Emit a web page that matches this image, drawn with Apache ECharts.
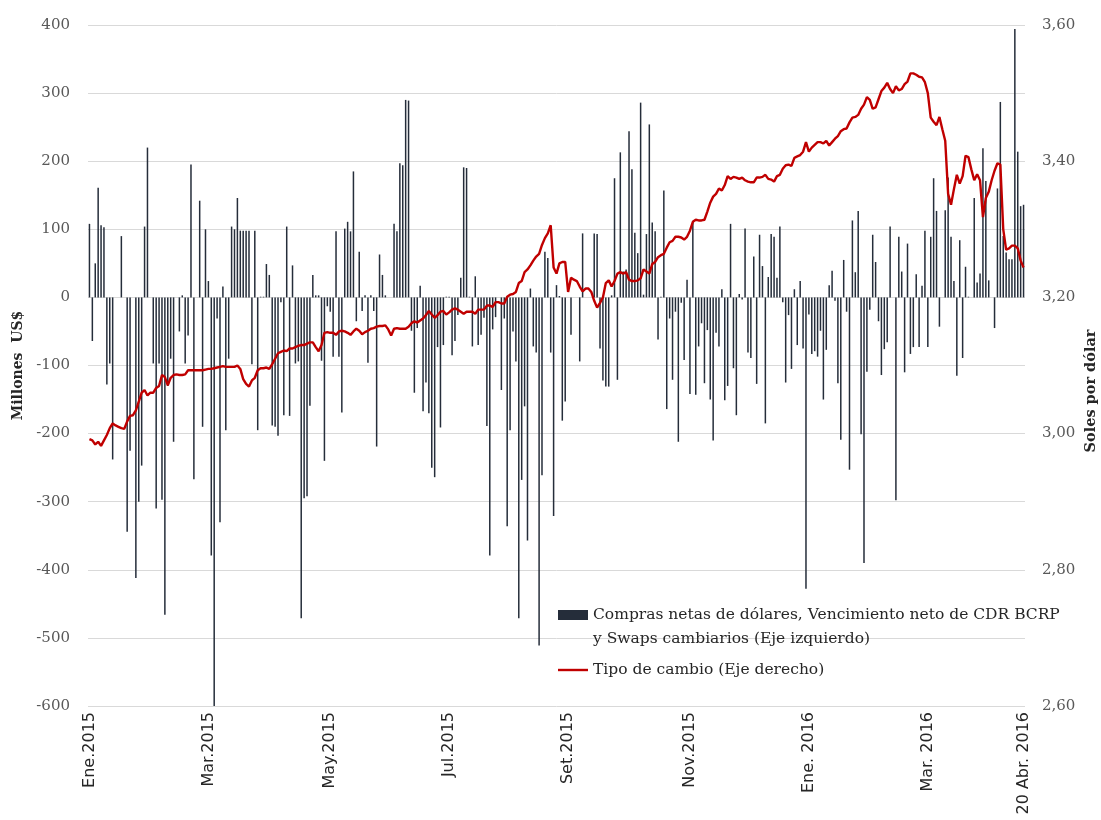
<!DOCTYPE html>
<html>
<head>
<meta charset="utf-8">
<script src="https://cdn.jsdelivr.net/npm/echarts@6/dist/echarts.min.js"></script>
<style>
  html, body { margin: 0; padding: 0; background: #fff; }
  #main { width: 1101px; height: 820px; }
</style>
</head>
<body>
<div id="main"></div>
<script>
// Compras netas de dólares + vencimiento neto CDR + swaps (mill. US$), un valor por día hábil
const compras = [
  108, -64, 50, 161, 106, 103, -128, -97, -238, 0,
  0, 90, 0, -344, -225, 0, -412, -300, -247, 104,
  220, 0, -97, -310, -97, -297, -466, -130, -90, -212,
  0, -50, 3, -97, -56, 195, -267, 0, 142, -190,
  100, 24, -379, -600, -31, -330, 16, -195, -90, 104,
  100, 146, 98, 98, 98, 98, -98, 98, -195, 1,
  1, 49, 33, -188, -190, -203, -7, -173, 104, -174,
  47, -97, -94, -471, -295, -292, -159, 33, 3, 3,
  -93, -240, -13, -21, -87, 97, -87, -169, 101, 111,
  97, 185, -35, 67, -20, 3, -96, 3, -20, -219,
  63, 33, 3, 0, 0, 108, 97, 197, 194, 290,
  289, -49, -140, -45, 17, -167, -125, -170, -250, -264,
  -73, -191, -70, 1, 1, -85, -64, -26, 29, 191,
  190, 1, -72, 31, -70, -55, -30, -189, -379, -47,
  -29, 0, -136, -31, -336, -195, -50, -94, -471, -268,
  -160, -357, 13, -72, -81, -511, -261, 67, 58, -81,
  -321, 18, 2, -181, -153, 0, -55, 0, 0, -94,
  94, 0, 0, 0, 94, 93, -75, -122, -131, -131,
  3, 175, -121, 213, 38, 41, 244, 188, 95, 65,
  286, 4, 93, 254, 110, 97, -62, 1, 157, -164,
  -31, -121, -21, -212, -8, -92, 26, -142, 111, -143,
  -72, -38, -126, -48, -150, -210, -52, -72, 12, -151,
  -130, 108, -104, -173, 5, -3, 101, -81, -89, 60,
  -127, 92, 46, -185, 30, 93, 89, 29, 104, -7,
  -125, -26, -105, 12, -70, 24, -75, -428, -25, -83,
  -79, -87, -49, -150, -77, 18, 39, -5, -126, -209,
  55, -21, -253, 113, 37, 127, -201, -390, -109, -18,
  92, 52, -35, -114, -76, -66, 104, 0, -298, 89,
  38, -110, 79, -83, -73, 34, -73, 17, 98, -73,
  89, 175, 127, -43, 0, 128, 176, 89, 24, -115,
  84, -89, 45, 1, 0, 146, 22, 35, 219, 171,
  25, 0, -45, 160, 287, 90, 66, 56, 56, 394,
  214, 134, 136
];

// Tipo de cambio (soles por dólar)
const tipoCambio = [
  2.992, 2.990, 2.984, 2.988, 2.982, 2.990, 2.998, 3.008, 3.015, 3.012,
  3.010, 3.008, 3.007, 3.018, 3.026, 3.027, 3.034, 3.047, 3.060, 3.064,
  3.056, 3.060, 3.060, 3.067, 3.070, 3.086, 3.083, 3.071, 3.082, 3.086,
  3.087, 3.086, 3.086, 3.087, 3.093, 3.093, 3.093, 3.093, 3.093, 3.093,
  3.094, 3.095, 3.095, 3.096, 3.097, 3.098, 3.099, 3.098, 3.098, 3.098,
  3.098, 3.100, 3.095, 3.080, 3.073, 3.069, 3.078, 3.082, 3.093, 3.096,
  3.096, 3.097, 3.095, 3.102, 3.110, 3.118, 3.120, 3.122, 3.121, 3.125,
  3.125, 3.127, 3.129, 3.130, 3.130, 3.132, 3.134, 3.134, 3.127, 3.121,
  3.130, 3.148, 3.149, 3.148, 3.148, 3.145, 3.150, 3.151, 3.150, 3.148,
  3.145, 3.150, 3.154, 3.151, 3.146, 3.149, 3.151, 3.154, 3.155, 3.157,
  3.158, 3.158, 3.159, 3.153, 3.144, 3.154, 3.155, 3.154, 3.154, 3.154,
  3.157, 3.162, 3.165, 3.163, 3.166, 3.169, 3.174, 3.180, 3.175, 3.170,
  3.174, 3.179, 3.180, 3.175, 3.178, 3.182, 3.184, 3.182, 3.179, 3.176,
  3.179, 3.179, 3.179, 3.176, 3.182, 3.182, 3.182, 3.188, 3.188, 3.186,
  3.193, 3.193, 3.191, 3.191, 3.201, 3.204, 3.205, 3.208, 3.221, 3.224,
  3.237, 3.241, 3.247, 3.254, 3.260, 3.264, 3.277, 3.287, 3.294, 3.306,
  3.244, 3.235, 3.250, 3.252, 3.252, 3.208, 3.229, 3.226, 3.224, 3.216,
  3.209, 3.213, 3.213, 3.208, 3.195, 3.185, 3.192, 3.200, 3.221, 3.225,
  3.216, 3.224, 3.235, 3.237, 3.235, 3.237, 3.226, 3.224, 3.224, 3.225,
  3.228, 3.241, 3.238, 3.235, 3.249, 3.252, 3.259, 3.262, 3.264, 3.273,
  3.281, 3.283, 3.289, 3.289, 3.288, 3.285, 3.289, 3.298, 3.311, 3.314,
  3.313, 3.313, 3.314, 3.326, 3.339, 3.348, 3.352, 3.360, 3.357, 3.365,
  3.378, 3.374, 3.377, 3.376, 3.374, 3.376, 3.372, 3.370, 3.369, 3.369,
  3.376, 3.376, 3.377, 3.380, 3.374, 3.373, 3.370, 3.378, 3.380, 3.389,
  3.394, 3.395, 3.393, 3.405, 3.407, 3.409, 3.414, 3.428, 3.414, 3.420,
  3.424, 3.428, 3.428, 3.426, 3.430, 3.423, 3.428, 3.433, 3.437, 3.444,
  3.447, 3.448, 3.457, 3.464, 3.465, 3.468, 3.477, 3.483, 3.494, 3.490,
  3.477, 3.479, 3.491, 3.503, 3.508, 3.515, 3.506, 3.500, 3.510, 3.504,
  3.506, 3.513, 3.517, 3.529, 3.529, 3.527, 3.524, 3.523, 3.516, 3.500,
  3.464, 3.458, 3.453, 3.465, 3.447, 3.430, 3.352, 3.336, 3.359, 3.380,
  3.367, 3.378, 3.408, 3.406, 3.388, 3.372, 3.381, 3.372, 3.318, 3.346,
  3.355, 3.372, 3.386, 3.397, 3.395, 3.300, 3.270, 3.272, 3.276, 3.276,
  3.272, 3.254, 3.244
];

// etiquetas del eje x (índice del día hábil y texto)
const tickIdx = [0, 41, 83, 124, 165, 207, 248, 289, 322];
const tickText = ['Ene.2015', 'Mar.2015', 'May.2015', 'Jul.2015', 'Set.2015',
  'Nov.2015', 'Ene. 2016', 'Mar. 2016', '20 Abr. 2016'];

const barName = 'Compras netas de dólares, Vencimiento neto de CDR BCRP y Swaps cambiarios (Eje izquierdo)';
const lineName = 'Tipo de cambio (Eje derecho)';

const dias = compras.map((v, i) => {
  const k = tickIdx.indexOf(i);
  return k >= 0 ? tickText[k] : 'd' + i;
});

const serif = 'DejaVu Serif';
const barColor = '#252d3a';
const lineColor = '#c00000';

const chart = echarts.init(document.getElementById('main'), null, { renderer: 'canvas' });

chart.setOption({
  animation: false,
  backgroundColor: '#fff',
  grid: { // área del gráfico
    left: 88,
    right: 76,
    top: 25,
    bottom: 114,
    containLabel: false,
    outerBoundsMode: 'none'
  },
  legend: {
    orient: 'vertical',
    left: 558,
    top: 579,
    padding: 0,
    itemWidth: 30,
    itemHeight: 10,
    itemGap: 7,
    textStyle: { fontFamily: serif, fontSize: 15.5, color: '#262626', lineHeight: 24 },
    // línea vacía arriba para que el icono quede junto a la primera línea
    formatter: name => name === barName
      ? '\nCompras netas de dólares, Vencimiento neto de CDR BCRP\ny Swaps cambiarios (Eje izquierdo)'
      : name,
    data: [
      { name: barName, icon: 'rect' },
      { name: lineName, icon: 'path://M0,0 L30,0 L30,2.4 L0,2.4 Z' }
    ]
  },
  xAxis: {
    type: 'category',
    data: dias,
    boundaryGap: true,
    axisLine: { show: false },
    axisTick: { show: false },
    axisLabel: {
      interval: (i) => tickIdx.indexOf(i) >= 0,
      rotate: 90,
      margin: 6,
      fontFamily: 'DejaVu Sans',
      fontSize: 16,
      color: '#262626',
      hideOverlap: false
    },
    splitLine: { show: false }
  },
  yAxis: [{
    type: 'value',
    min: -600,
    max: 400,
    interval: 100,
    name: 'Millones  US$',
    nameLocation: 'middle',
    nameGap: 62,
    nameTextStyle: { fontFamily: serif, fontSize: 14, fontWeight: 'bold', color: '#262626' },
    axisLine: { show: false },
    axisTick: { show: false },
    axisLabel: { margin: 18, fontFamily: serif, fontSize: 15, color: '#595959' },
    splitLine: { lineStyle: { color: '#d9d9d9', width: 1 } }
  }, {
    type: 'value',
    min: 2.6,
    max: 3.6,
    interval: 0.2,
    position: 'right',
    axisLine: { show: false },
    axisTick: { show: false },
    axisLabel: {
      margin: 17,
      fontFamily: serif,
      fontSize: 15,
      color: '#595959',
      formatter: v => v.toFixed(2).replace('.', ',')
    },
    splitLine: { show: false }
  }],
  graphic: [{
    type: 'text',
    x: 1091,
    y: 391,
    rotation: Math.PI / 2,
    style: {
      text: 'Soles por dólar',
      fontFamily: serif,
      fontSize: 14.5,
      fontWeight: 'bold',
      fill: '#262626',
      align: 'center',
      verticalAlign: 'middle'
    }
  }],
  series: [{
    name: barName,
    type: 'bar',
    data: compras,
    barWidth: 1.5,
    itemStyle: { color: barColor },
    yAxisIndex: 0,
    z: 2
  }, {
    name: lineName,
    type: 'line',
    data: tipoCambio,
    yAxisIndex: 1,
    symbol: 'none',
    smooth: false,
    lineStyle: { color: lineColor, width: 2.4 },
    itemStyle: { color: lineColor },
    z: 3
  }]
});
</script>
</body>
</html>
